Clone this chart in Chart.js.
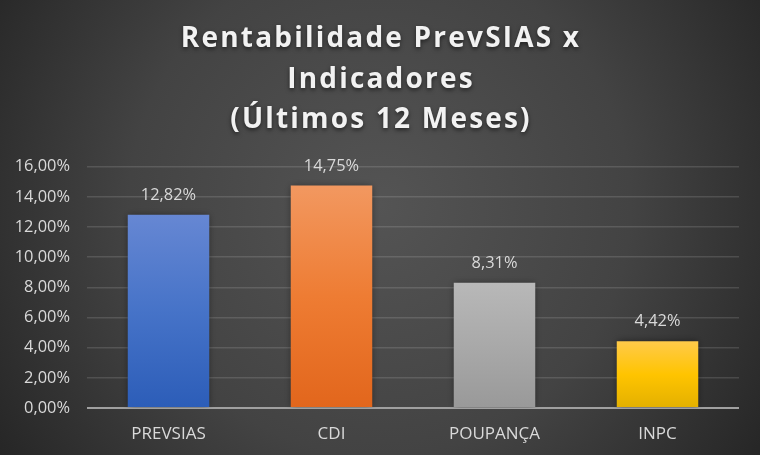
<!DOCTYPE html>
<html>
<head>
<meta charset="utf-8">
<script src="https://cdn.jsdelivr.net/npm/chart.js@4.4.1/dist/chart.umd.min.js"></script>
<style>
  html,body{margin:0;padding:0;background:#333;}
  #wrap{width:760px;height:455px;position:relative;}
</style>
</head>
<body>
<div id="wrap"><canvas id="c" width="760" height="455"></canvas></div>
<script>
const categories = ['PREVSIAS', 'CDI', 'POUPANÇA', 'INPC'];
const values = [12.82, 14.75, 8.31, 4.42];
const titleLines = ['Rentabilidade PrevSIAS x', 'Indicadores', '(Últimos 12 Meses)'];
const yTicksMax = 16;
const yTicksStep = 2;

const barColors = [
  ['#6687d3', '#4673c8', '#2c5db8'],
  ['#f29860', '#ee7c33', '#e2661c'],
  ['#b8b8b8', '#a9a9a9', '#999999'],
  ['#ffca4a', '#ffc400', '#e3b000']
];

function fmt(v){ return v.toFixed(2).replace('.', ',') + '%'; }

const bgPlugin = {
  id: 'bg',
  beforeDraw(chart){
    const {ctx, width, height} = chart;
    ctx.save();
    const g = ctx.createRadialGradient(width*0.5, height*0.45, 0, width*0.5, height*0.45, width*0.6);
    g.addColorStop(0, '#545454');
    g.addColorStop(0.55, '#434343');
    g.addColorStop(1, '#262626');
    ctx.fillStyle = g;
    ctx.fillRect(0, 0, width, height);
    ctx.restore();
  },
  afterDraw(chart){
    const ctx = chart.ctx;
    ctx.save();
    ctx.font = 'bold 28px "Open Sans", sans-serif';
    ctx.letterSpacing = '2.2px';
    ctx.textAlign = 'center';
    ctx.textBaseline = 'alphabetic';
    ctx.fillStyle = '#f2f2f2';
    ctx.shadowColor = 'rgba(0,0,0,0.55)';
    ctx.shadowBlur = 4;
    ctx.shadowOffsetY = 2;
    const cx = chart.width / 2 + 1;
    titleLines.forEach((t, i) => ctx.fillText(t, cx, 47 + i * 40.5));
    ctx.restore();
  }
};

const shadowPlugin = {
  id: 'barShadow',
  beforeDatasetsDraw(chart){
    const ctx = chart.ctx;
    ctx.save();
    ctx.shadowColor = 'rgba(0,0,0,0.45)';
    ctx.shadowBlur = 7;
  },
  afterDatasetsDraw(chart){
    chart.ctx.restore();
    const ctx = chart.ctx;
    ctx.save();
    ctx.font = '16.4px "Open Sans", sans-serif';
    ctx.fillStyle = '#d9d9d9';
    ctx.textAlign = 'center';
    ctx.textBaseline = 'alphabetic';
    const meta = chart.getDatasetMeta(0);
    meta.data.forEach((bar, i) => {
      ctx.fillText(fmt(values[i]), bar.x, bar.y - 15);
    });
    ctx.restore();
  }
};

new Chart(document.getElementById('c'), {
  type: 'bar',
  data: {
    labels: categories,
    datasets: [{
      data: values,
      backgroundColor(c){
        const chart = c.chart;
        const area = chart.chartArea;
        const i = c.dataIndex;
        if (!area || i === undefined) return barColors[0][1];
        const y = chart.scales.y;
        const top = y.getPixelForValue(values[i]);
        const bot = y.getPixelForValue(0);
        const g = chart.ctx.createLinearGradient(0, top, 0, bot);
        g.addColorStop(0, barColors[i][0]);
        g.addColorStop(0.5, barColors[i][1]);
        g.addColorStop(1, barColors[i][2]);
        return g;
      },
      borderWidth: 0,
      barPercentage: 1.0,
      categoryPercentage: 0.5
    }]
  },
  options: {
    responsive: false,
    animation: false,
    devicePixelRatio: 1,
    layout: { padding: { left: 0, right: 21, bottom: 0, top: 0 } },
    plugins: {
      legend: { display: false },
      tooltip: { enabled: false },
      title: {
        display: true,
        text: titleLines,
        color: 'rgba(0,0,0,0)',
        font: { family: '"Open Sans", sans-serif', size: 28, weight: 'bold', lineHeight: 1.39 },
        padding: { top: 20, bottom: 30 }
      }
    },
    scales: {
      x: {
        afterFit(scale){ scale.height = 47; },
        grid: { display: false, drawTicks: false },
        border: { display: false },
        ticks: { color: '#d9d9d9', font: { family: '"Open Sans", sans-serif', size: 17 }, padding: 16 }
      },
      y: {
        min: 0,
        max: yTicksMax,
        afterFit(scale){ scale.width = 87; },
        border: { display: false },
        grid: {
          color(c){ return c.tick && c.tick.value === 0 ? '#a0a0a0' : 'rgba(255,255,255,0.13)'; },
          lineWidth(c){ return c.tick && c.tick.value === 0 ? 2 : 1.5; },
          drawTicks: false
        },
        ticks: {
          stepSize: yTicksStep,
          color: '#d9d9d9',
          font: { family: '"Open Sans", sans-serif', size: 16.4 },
          padding: 17,
          callback(v){ return fmt(v); }
        }
      }
    }
  },
  plugins: [bgPlugin, shadowPlugin]
});
</script>
</body>
</html>
